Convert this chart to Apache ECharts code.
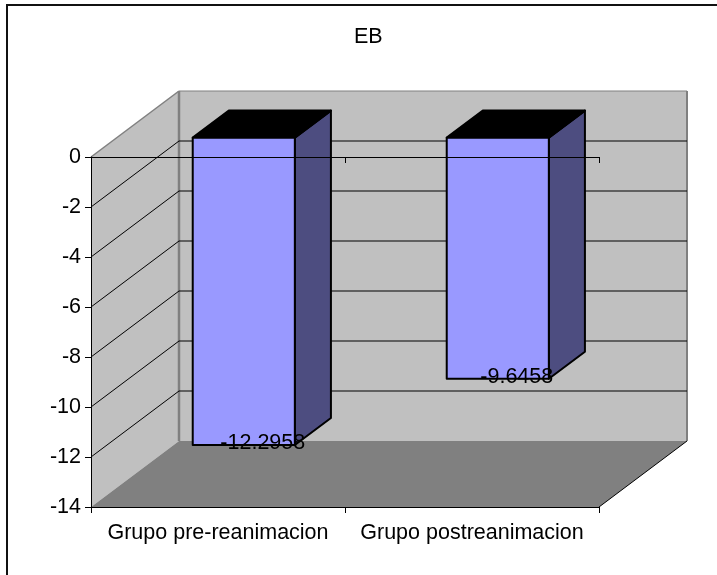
<!DOCTYPE html>
<html>
<head>
<meta charset="utf-8">
<style>
  html, body { margin: 0; padding: 0; background: #fff; }
  #chart { width: 717px; height: 575px; }
</style>
</head>
<body>
<div id="chart"></div>
<script src="https://cdn.jsdelivr.net/npm/echarts@6/dist/echarts.min.js"></script>
<script>
const categories = ['Grupo pre-reanimacion', 'Grupo postreanimacion']
const values = [-12.2958, -9.6458]
const yTicks = [0, -2, -4, -6, -8, -10, -12, -14]

// fake 3d: how far the back wall sits from the front plane, in px
const DEPTH_X = 88
const DEPTH_Y = -66
const BAR_RATIO = 0.402
const BAR_DEPTH_START = 0.293
const BAR_DEPTH_END = 0.703

const FONT = '"Liberation Sans", Arial, sans-serif'
const FONT_SIZE = 21.5
const yMin = yTicks[yTicks.length - 1]
const yMax = yTicks[0]

function poly(points, fill, extra) {
  return {
    type: 'polygon',
    shape: { points },
    style: Object.assign({ fill, stroke: 'none' }, extra)
  }
}

function line(x1, y1, x2, y2, stroke, lineWidth) {
  return {
    type: 'line',
    shape: { x1, y1, x2, y2 },
    style: { stroke, lineWidth, fill: 'none' }
  }
}

function plotBox(api) {
  const band = api.size([1, 0])[0]
  const left = api.coord([0, yMax])[0] - band / 2
  return {
    left,
    right: left + band * categories.length,
    top: api.coord([0, yMax])[1],
    bottom: api.coord([0, yMin])[1]
  }
}

function renderWalls(params, api) {
  const b = plotBox(api)
  const backL = b.left + DEPTH_X
  const backR = b.right + DEPTH_X
  const backT = b.top + DEPTH_Y
  const backB = b.bottom + DEPTH_Y
  return {
    type: 'group',
    children: [
      poly([[backL, backT], [backR, backT], [backR, backB], [backL, backB]], '#C0C0C0'),
      poly([[b.left, b.top], [backL, backT], [backL, backB], [b.left, b.bottom]], '#C0C0C0'),
      poly([[b.left, b.bottom], [b.right, b.bottom], [backR, backB], [backL, backB]], '#808080'),
      line(backL, backT, backR, backT, '#808080', 1),
      line(backR, backT, backR, backB, '#808080', 2),
      line(backL, backT, backL, backB, '#808080', 2.5),
      line(b.left, b.top, backL, backT, '#808080', 1.5),
      line(b.right, b.bottom, backR, backB, '#000', 1)
    ]
  }
}

function renderGridline(params, api) {
  const b = plotBox(api)
  const y = api.coord([0, api.value(1)])[1]
  return {
    type: 'group',
    children: [
      line(b.left, y, b.left + DEPTH_X, y + DEPTH_Y, '#000', 1),
      line(b.left + DEPTH_X, y + DEPTH_Y, b.right + DEPTH_X, y + DEPTH_Y, '#000', 1)
    ]
  }
}

function renderBar(params, api) {
  const band = api.size([1, 0])[0]
  const center = api.coord([api.value(0), 0])[0]
  const w = band * BAR_RATIO
  const zeroY = api.coord([0, 0])[1]
  const valueY = api.coord([0, api.value(1)])[1]
  const fx = DEPTH_X * BAR_DEPTH_START
  const fy = DEPTH_Y * BAR_DEPTH_START
  const bx = DEPTH_X * BAR_DEPTH_END
  const by = DEPTH_Y * BAR_DEPTH_END
  const l = center - w / 2
  const r = center + w / 2
  const edge = { stroke: '#000', lineWidth: 2, lineJoin: 'round' }
  return {
    type: 'group',
    children: [
      poly([[r + fx, zeroY + fy], [r + bx, zeroY + by], [r + bx, valueY + by], [r + fx, valueY + fy]], '#4D4D80', edge),
      poly([[l + fx, zeroY + fy], [l + bx, zeroY + by], [r + bx, zeroY + by], [r + fx, zeroY + fy]], '#000', edge),
      poly([[l + fx, zeroY + fy], [r + fx, zeroY + fy], [r + fx, valueY + fy], [l + fx, valueY + fy]], '#9999FF', edge)
    ]
  }
}

function renderBarLabel(params, api) {
  const center = api.coord([api.value(0), 0])[0]
  const valueY = api.coord([0, api.value(1)])[1]
  return {
    type: 'text',
    z2: 100,
    style: {
      x: center + DEPTH_X * BAR_DEPTH_START + 19,
      y: valueY + DEPTH_Y * BAR_DEPTH_START - 2,
      text: String(api.value(1)),
      fill: '#000',
      font: FONT_SIZE + 'px ' + FONT,
      align: 'center',
      verticalAlign: 'middle'
    }
  }
}

const barData = categories.map((c, i) => [i, values[i]])
const gridData = yTicks.filter(t => t !== yMin && t !== yMax).map(t => [0, t])

const option = {
  animation: false,
  backgroundColor: '#fff',
  textStyle: { fontFamily: FONT },
  title: {
    text: 'EB',
    left: 349,
    top: 21,
    textStyle: { fontFamily: FONT, fontSize: FONT_SIZE, fontWeight: 'normal', color: '#000' }
  },
  graphic: [{
    type: 'rect',
    shape: { x: 7, y: 5, width: 800, height: 700 },
    style: { fill: 'none', stroke: '#111', lineWidth: 2 },
    silent: true
  }],
  grid: { left: 91, top: 157, width: 508, height: 350 },
  xAxis: [
    {
      type: 'category',
      data: categories,
      position: 'bottom',
      z: 10,
      axisLine: { onZero: false, lineStyle: { color: '#000', width: 1 } },
      axisTick: { show: true, length: 6, lineStyle: { color: '#000' } },
      axisLabel: { color: '#000', fontSize: FONT_SIZE, fontFamily: FONT, margin: 15, interval: 0 }
    },
    {
      type: 'category',
      data: categories,
      position: 'top',
      z: 10,
      axisLine: { onZero: false, lineStyle: { color: '#000', width: 1 } },
      axisTick: { show: true, inside: true, length: 6, lineStyle: { color: '#000' } },
      axisLabel: { show: false }
    }
  ],
  yAxis: {
    type: 'value',
    min: yMin,
    max: yMax,
    interval: 2,
    z: 10,
    axisLine: { show: true, lineStyle: { color: '#000', width: 1 } },
    axisTick: { show: true, length: 6, lineStyle: { color: '#000' } },
    axisLabel: { color: '#000', fontSize: FONT_SIZE, fontFamily: FONT, margin: 10 },
    splitLine: { show: false }
  },
  series: [
    { type: 'custom', name: 'walls', renderItem: renderWalls, data: [[0, yMax]], clip: false, silent: true, z: 1 },
    { type: 'custom', name: 'gridlines', renderItem: renderGridline, data: gridData, clip: false, silent: true, z: 2 },
    { type: 'custom', name: 'EB', renderItem: renderBar, data: barData, clip: false, z: 3 },
    { type: 'custom', name: 'labels', renderItem: renderBarLabel, data: barData, clip: false, silent: true, z: 20 }
  ]
}

const chart = echarts.init(document.getElementById('chart'))
chart.setOption(option)
</script>
</body>
</html>
